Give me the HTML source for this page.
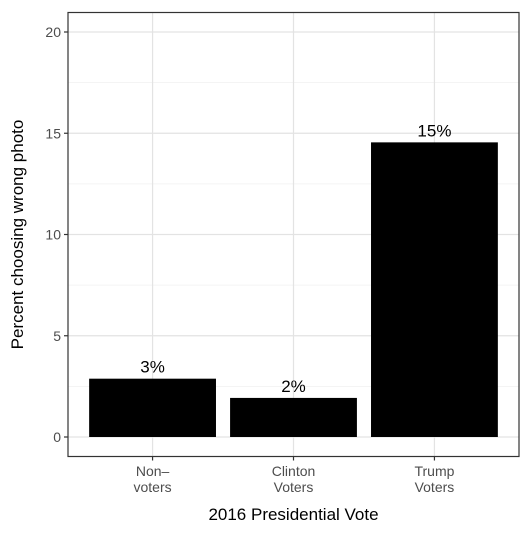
<!DOCTYPE html>
<html><head><meta charset="utf-8"><style>
html,body{margin:0;padding:0;background:#fff;}
svg{display:block;font-family:"Liberation Sans",Arial,sans-serif;}
</style></head><body>
<svg id="chart" width="531" height="533" viewBox="0 0 531 533" xmlns="http://www.w3.org/2000/svg"></svg>
<script>
const categories = ["Non-voters","Clinton Voters","Trump Voters"];
const catLines = [["Non\u2013","voters"],["Clinton","Voters"],["Trump","Voters"]];
const values = [2.88, 1.93, 14.55];
const valueLabels = ["3%","2%","15%"];
const yTicks = [0,5,10,15,20];
const yMinor = [2.5,7.5,12.5,17.5];

const svg = document.getElementById('chart');
const NS = "http://www.w3.org/2000/svg";
const pL=68, pR=519, pT=12.5, pB=456.5;
const y0=437, yPer=20.25;
function y(v){return y0 - v*yPer;}
const step=(pR-pL)/(categories.length+0.2);
function xc(i){return pL + step*(i+0.6);}
const bw = step*0.9;
function mk(tag, attrs, parent){const e=document.createElementNS(NS,tag);for(const k in attrs)e.setAttribute(k,attrs[k]);(parent||svg).appendChild(e);return e;}

const panel = mk('rect',{x:pL,y:pT,width:pR-pL,height:pB-pT,fill:'#fff'});


yMinor.forEach(v=>{const l=mk('line',{x1:pL,x2:pR,y1:y(v),y2:y(v),stroke:'#f0f0f0','stroke-width':0.8});

});
yTicks.forEach(v=>{const l=mk('line',{x1:pL,x2:pR,y1:y(v),y2:y(v),stroke:'#e3e3e3','stroke-width':1.2});

});
categories.forEach((c,i)=>{const l=mk('line',{x1:xc(i),x2:xc(i),y1:pT,y2:pB,stroke:'#e3e3e3','stroke-width':1.2});

});

values.forEach((v,i)=>{
 const r=mk('rect',{x:xc(i)-bw/2,y:y(v),width:bw,height:y(0)-y(v),fill:'#000'});
 
 
 const t=mk('text',{x:xc(i),y:y(v)-6,'text-anchor':'middle','font-size':17,fill:'#000'});
 t.textContent=valueLabels[i];
 
 
});

const border=mk('rect',{x:pL,y:pT,width:pR-pL,height:pB-pT,fill:'none',stroke:'#333','stroke-width':1.2});



yTicks.forEach(v=>{
 const tk=mk('line',{x1:pL-4,x2:pL,y1:y(v),y2:y(v),stroke:'#333','stroke-width':1.2});
 
 
 const t=mk('text',{x:pL-7,y:y(v)+5,'text-anchor':'end','font-size':14,fill:'#4d4d4d'});
 t.textContent=v;
 
 
});
categories.forEach((c,i)=>{
 const tk=mk('line',{x1:xc(i),x2:xc(i),y1:pB,y2:pB+4,stroke:'#333','stroke-width':1.2});
 
 
 const t=mk('text',{x:xc(i),y:476,'text-anchor':'middle','font-size':14,fill:'#4d4d4d'});
 
 
 catLines[i].forEach((ln,j)=>{const s=mk('tspan',{x:xc(i),dy:j?16:0},t);s.textContent=ln;});
});
const xt=mk('text',{x:(pL+pR)/2,y:520,'text-anchor':'middle','font-size':17,fill:'#000'});
xt.textContent="2016 Presidential Vote";


const yt=mk('text',{x:0,y:0,'text-anchor':'middle','font-size':17,fill:'#000',transform:`translate(23,${(pT+pB)/2}) rotate(-90)`});
yt.textContent="Percent choosing wrong photo";


</script>
</body></html>
